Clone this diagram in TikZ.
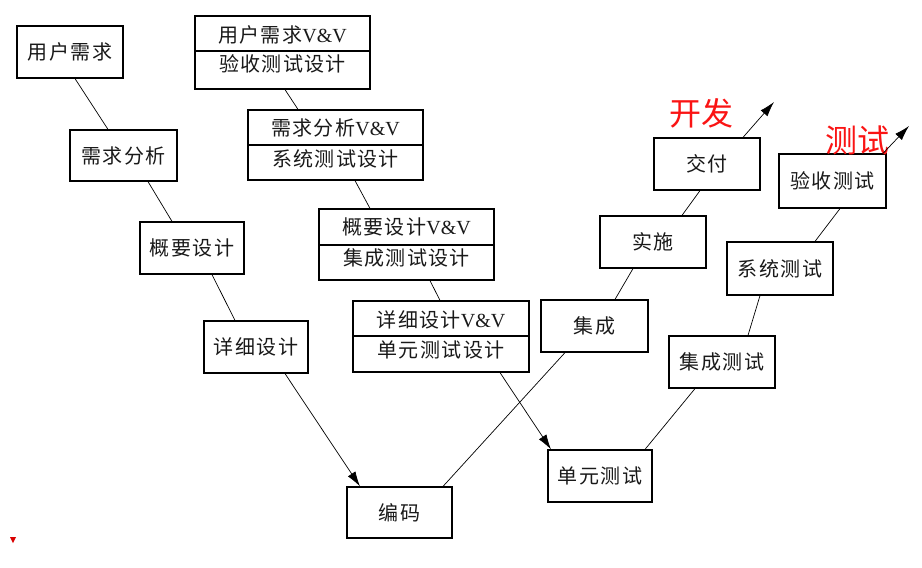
\documentclass[tikz,border=0pt]{standalone}
\usepackage{fontspec}
\setmainfont{Liberation Serif}
\newfontfamily\cjk[LetterSpace=7]{Noto Sans CJK SC}
\newfontfamily\cjkred{Noto Sans CJK SC}
\usetikzlibrary{arrows.meta,calc}
\tikzset{
  box/.style={draw=black, line width=1.2pt, fill=white, inner sep=0pt, font=\cjk\fontsize{20}{22}\selectfont, text=black!90},
  lbl/.style={inner sep=0pt, font=\cjk\fontsize{20}{22}\selectfont, text=black!90},
  link/.style={draw=black, line width=0.7pt},
  arr/.style={link, -{Latex[length=15pt,width=9pt]}},
  redlbl/.style={inner sep=0pt, text={rgb,255:red,250;green,20;blue,20}, font=\cjkred\fontsize{32}{34}\selectfont}
}
\begin{document}
\begin{tikzpicture}[x=1pt,y=-1pt]
\useasboundingbox (0,0) rectangle (922,568);
% left branch
\node[box, minimum width=106, minimum height=52] (n1) at (70,52) {用户需求};
\node[box, minimum width=107, minimum height=51] (n2) at (123.5,155.5) {需求分析};
\node[box, minimum width=104, minimum height=52] (n3) at (192,248) {概要设计};
\node[box, minimum width=104, minimum height=52] (n4) at (256,347) {详细设计};
\node[box, minimum width=105, minimum height=51] (n5) at (399.5,512.5) {编码};
% V&V boxes
\node[box, minimum width=175, minimum height=73] (v1) at (282.5,52.5) {};
\node[box, minimum width=175, minimum height=70] (v2) at (335.5,145) {};
\node[box, minimum width=175, minimum height=71] (v3) at (406.5,244.5) {};
\node[box, minimum width=176, minimum height=71] (v4) at (441,336.5) {};
\draw[line width=1.2pt] ([yshift=1.5]v1.west) -- ([yshift=1.5]v1.east);
\draw[line width=1.2pt] (v2.west) -- (v2.east);
\draw[line width=1.2pt] ([yshift=-0.5]v3.west) -- ([yshift=-0.5]v3.east);
\draw[line width=1.2pt] ([yshift=0.5]v4.west) -- ([yshift=0.5]v4.east);
\node[lbl] (v1a) at (282.5,35) {用户需求\rmfamily V\&V};
\node[lbl] (v1b) at (282.5,64) {验收测试设计};
\node[lbl] (v2a) at (335.5,128) {需求分析\rmfamily V\&V};
\node[lbl] (v2b) at (335.5,159) {系统测试设计};
\node[lbl] (v3a) at (406.5,227) {概要设计\rmfamily V\&V};
\node[lbl] (v3b) at (406.5,258) {集成测试设计};
\node[lbl] (v4a) at (441,320) {详细设计\rmfamily V\&V};
\node[lbl] (v4b) at (441,350) {单元测试设计};
% right branches
\node[box, minimum width=104, minimum height=52] (n6) at (600,476) {单元测试};
\node[box, minimum width=107, minimum height=52] (n7) at (594.5,326) {集成};
\node[box, minimum width=106, minimum height=52] (n8) at (653,242) {实施};
\node[box, minimum width=106, minimum height=52] (n9) at (707,164) {交付};
\node[box, minimum width=106, minimum height=52] (n10) at (722,362) {集成测试};
\node[box, minimum width=106, minimum height=53] (n11) at (780,268.5) {系统测试};
\node[box, minimum width=107, minimum height=54] (n12) at (832.5,181) {验收测试};
\coordinate (e1) at (774,102);
\coordinate (e2) at (909,126);
% red labels
\node[redlbl] (dev) at (701,113) {开发};
\node[redlbl] (tst) at (857,140) {测试};
% connectors
\draw[link] ([xshift=5]n1.south) -- ([xshift=-15.5]n2.north);
\draw[link] ([xshift=24.5]n2.south) -- ([xshift=-20]n3.north);
\draw[link] ([xshift=20]n3.south) -- ([xshift=-21]n4.north);
\draw[arr] ([xshift=29]n4.south) -- ([xshift=-39.5]n5.north);
\draw[link] ([xshift=2.5]v1.south) -- ([xshift=-37.5]v2.north);
\draw[link] ([xshift=19.5]v2.south) -- ([xshift=-36.5]v3.north);
\draw[link] ([xshift=23.5]v3.south) -- ([xshift=-1]v4.north);
\draw[arr] ([xshift=59]v4.south) -- ([xshift=-49]n6.north);
\draw[link] ([xshift=43.5]n5.north) -- ([xshift=-29.5]n7.south);
\draw[link] ([xshift=20.5]n7.north) -- ([xshift=-20]n8.south);
\draw[link] ([xshift=29]n8.north) -- ([xshift=-7]n9.south);
\draw[arr] ([xshift=36]n9.north) -- (e1);
\draw[link] ([xshift=45]n6.north) -- ([xshift=-27]n10.south);
\draw[link] ([xshift=26]n10.north) -- ([xshift=-20]n11.south);
\draw[link] ([xshift=35]n11.north) -- ([xshift=7.5]n12.south);
\draw[arr] ([xshift=50.5]n12.north) -- (e2);
% small red marker
\fill[red!85!black] (10,537) -- (16,537) -- (13,543) -- cycle;
\end{tikzpicture}
\end{document}
